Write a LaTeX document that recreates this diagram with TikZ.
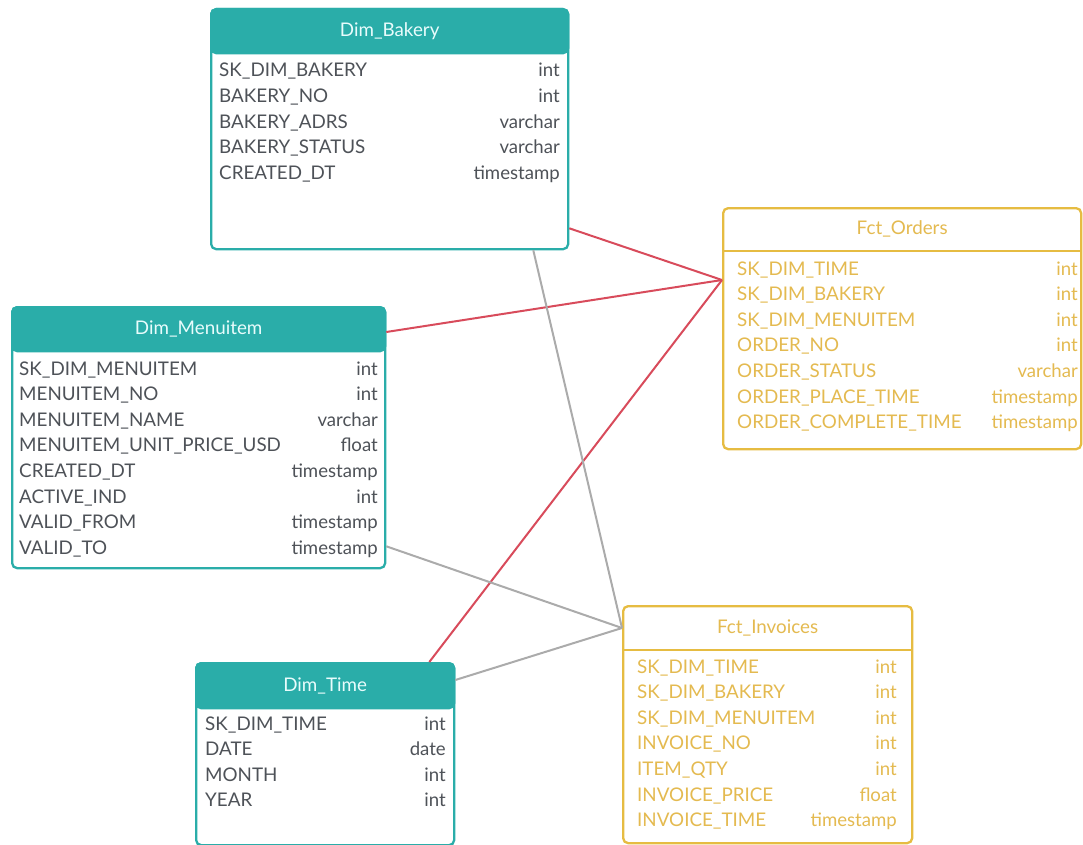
\documentclass[tikz,border=0pt]{standalone}
\usepackage{fontspec}
\setmainfont{Lato}
\usetikzlibrary{calc}

\definecolor{dimteal}{HTML}{2AADA9}
\definecolor{fctgold}{HTML}{E6BC42}
\definecolor{fcttext}{HTML}{E4BA50}
\definecolor{dimtext}{HTML}{4E5258}
\definecolor{headtext}{HTML}{E8FCFC}
\definecolor{relred}{HTML}{D84B5B}
\definecolor{relgray}{HTML}{ABABAB}

\tikzset{
  tbl/.style={line width=2.3pt, rounded corners=5pt, anchor=north west, inner sep=0pt},
  dimbox/.style={tbl, draw=dimteal, fill=white},
  fctbox/.style={tbl, draw=fctgold, fill=white},
  dimhead/.style={tbl, draw=dimteal, fill=dimteal, text=headtext, font=\fontsize{18.8}{20}\selectfont},
  fcthead/.style={tbl, text=fcttext, font=\fontsize{18.8}{20}\selectfont},
  fname/.style={anchor=base west, inner sep=0pt, font=\fontsize{18.8}{20}\selectfont},
  ftype/.style={anchor=base east, inner sep=0pt, font=\fontsize{18.6}{20}\selectfont},
  onemany/.style={relred, line width=2pt},
  oneone/.style={relgray, line width=2pt}
}

\begin{document}
\begin{tikzpicture}[x=1pt, y=-1pt]
  \useasboundingbox (0,0) rectangle (1083,845);

  % tables
  \node[dimbox, minimum width=357, minimum height=240] (bakery) at (210,8) {};
  \fill[dimteal] ([yshift=-22pt]bakery.north west) rectangle ([yshift=-44pt]bakery.north east);
  \node[dimhead, minimum width=357, minimum height=44] (bakeryhead) at (210,8) {Dim\_Bakery};

  \node[dimbox, minimum width=373, minimum height=261] (menu) at (11,306) {};
  \fill[dimteal] ([yshift=-22pt]menu.north west) rectangle ([yshift=-44pt]menu.north east);
  \node[dimhead, minimum width=373, minimum height=44] (menuhead) at (11,306) {Dim\_Menuitem};

  \node[dimbox, minimum width=258, minimum height=182] (time) at (195,662) {};
  \fill[dimteal] ([yshift=-22pt]time.north west) rectangle ([yshift=-45pt]time.north east);
  \node[dimhead, minimum width=258, minimum height=45] (timehead) at (195,662) {Dim\_Time};

  \node[fctbox, minimum width=358, minimum height=241] (orders) at (722,207) {};
  \node[fcthead, minimum width=358, minimum height=42] (ordershead) at (722,207) {Fct\_Orders};
  \draw[fctgold, line width=2.3pt] (ordershead.south west) -- (ordershead.south east);

  \node[fctbox, minimum width=289, minimum height=237] (invoices) at (622,605) {};
  \node[fcthead, minimum width=289, minimum height=43] (invoiceshead) at (622,605) {Fct\_Invoices};
  \draw[fctgold, line width=2.3pt] (invoiceshead.south west) -- (invoiceshead.south east);

  % Dim_Bakery fields
  \begin{scope}[dimtext]
  \path
    (219,77) node[fname] (bk1) {SK\_DIM\_BAKERY}
    (219,102.6) node[fname] (bk2) {BAKERY\_NO}
    (219,128.2) node[fname] (bk3) {BAKERY\_ADRS}
    (219,153.8) node[fname] (bk4) {BAKERY\_STATUS}
    (219,179.4) node[fname] (bk5) {CREATED\_DT}
    (560,77) node[ftype] (bk1t) {int}
    (560,102.6) node[ftype] (bk2t) {int}
    (560,128.2) node[ftype] (bk3t) {varchar}
    (560,153.8) node[ftype] (bk4t) {varchar}
    (560,179.4) node[ftype] (bk5t) {timestamp};

  % Dim_Menuitem fields
  \path
    (19,375) node[fname] (mi1) {SK\_DIM\_MENUITEM}
    (19,400.6) node[fname] (mi2) {MENUITEM\_NO}
    (19,426.2) node[fname] (mi3) {MENUITEM\_NAME}
    (19,451.8) node[fname] (mi4) {MENUITEM\_UNIT\_PRICE\_USD}
    (19,477.4) node[fname] (mi5) {CREATED\_DT}
    (19,503) node[fname] (mi6) {ACTIVE\_IND}
    (19,528.6) node[fname] (mi7) {VALID\_FROM}
    (19,554.2) node[fname] (mi8) {VALID\_TO}
    (378,375) node[ftype] (mi1t) {int}
    (378,400.6) node[ftype] (mi2t) {int}
    (378,426.2) node[ftype] (mi3t) {varchar}
    (378,451.8) node[ftype] (mi4t) {float}
    (378,477.4) node[ftype] (mi5t) {timestamp}
    (378,503) node[ftype] (mi6t) {int}
    (378,528.6) node[ftype] (mi7t) {timestamp}
    (378,554.2) node[ftype] (mi8t) {timestamp};

  % Dim_Time fields
  \path
    (205,730) node[fname] (tm1) {SK\_DIM\_TIME}
    (205,755.6) node[fname] (tm2) {DATE}
    (205,781.2) node[fname] (tm3) {MONTH}
    (205,806.8) node[fname] (tm4) {YEAR}
    (446,730) node[ftype] (tm1t) {int}
    (446,755.6) node[ftype] (tm2t) {date}
    (446,781.2) node[ftype] (tm3t) {int}
    (446,806.8) node[ftype] (tm4t) {int};
  \end{scope}

  \begin{scope}[fcttext]
  % Fct_Orders fields
  \path
    (737,275) node[fname] (or1) {SK\_DIM\_TIME}
    (737,300.6) node[fname] (or2) {SK\_DIM\_BAKERY}
    (737,326.2) node[fname] (or3) {SK\_DIM\_MENUITEM}
    (737,351.8) node[fname] (or4) {ORDER\_NO}
    (737,377.4) node[fname] (or5) {ORDER\_STATUS}
    (737,403) node[fname] (or6) {ORDER\_PLACE\_TIME}
    (737,428.6) node[fname] (or7) {ORDER\_COMPLETE\_TIME}
    (1078,275) node[ftype] (or1t) {int}
    (1078,300.6) node[ftype] (or2t) {int}
    (1078,326.2) node[ftype] (or3t) {int}
    (1078,351.8) node[ftype] (or4t) {int}
    (1078,377.4) node[ftype] (or5t) {varchar}
    (1078,403) node[ftype] (or6t) {timestamp}
    (1078,428.6) node[ftype] (or7t) {timestamp};

  % Fct_Invoices fields
  \path
    (637,673) node[fname] (iv1) {SK\_DIM\_TIME}
    (637,698.6) node[fname] (iv2) {SK\_DIM\_BAKERY}
    (637,724.2) node[fname] (iv3) {SK\_DIM\_MENUITEM}
    (637,749.8) node[fname] (iv4) {INVOICE\_NO}
    (637,775.4) node[fname] (iv5) {ITEM\_QTY}
    (637,801) node[fname] (iv6) {INVOICE\_PRICE}
    (637,826.6) node[fname] (iv7) {INVOICE\_TIME}
    (897,673) node[ftype] (iv1t) {int}
    (897,698.6) node[ftype] (iv2t) {int}
    (897,724.2) node[ftype] (iv3t) {int}
    (897,749.8) node[ftype] (iv4t) {int}
    (897,775.4) node[ftype] (iv5t) {int}
    (897,801) node[ftype] (iv6t) {float}
    (897,826.6) node[ftype] (iv7t) {timestamp};
  \end{scope}

  % relations
  \coordinate (ordersfk) at ([yshift=-73pt]orders.north west);
  \coordinate (invoicesfk) at ([yshift=-23pt]invoices.north west);
  \begin{scope}[onemany]
    \draw ([yshift=22pt]bakery.south east) -- (ordersfk);
    \draw ([yshift=-26pt]menu.north east) -- (ordersfk);
    \draw ([xshift=-26pt]time.north east) -- (ordersfk);
  \end{scope}
  \begin{scope}[oneone]
    \draw ([xshift=-36pt]bakery.south east) -- (invoicesfk);
    \draw ([yshift=23pt]menu.south east) -- (invoicesfk);
    \draw ([yshift=-18pt]time.north east) -- (invoicesfk);
  \end{scope}
\end{tikzpicture}
\end{document}
